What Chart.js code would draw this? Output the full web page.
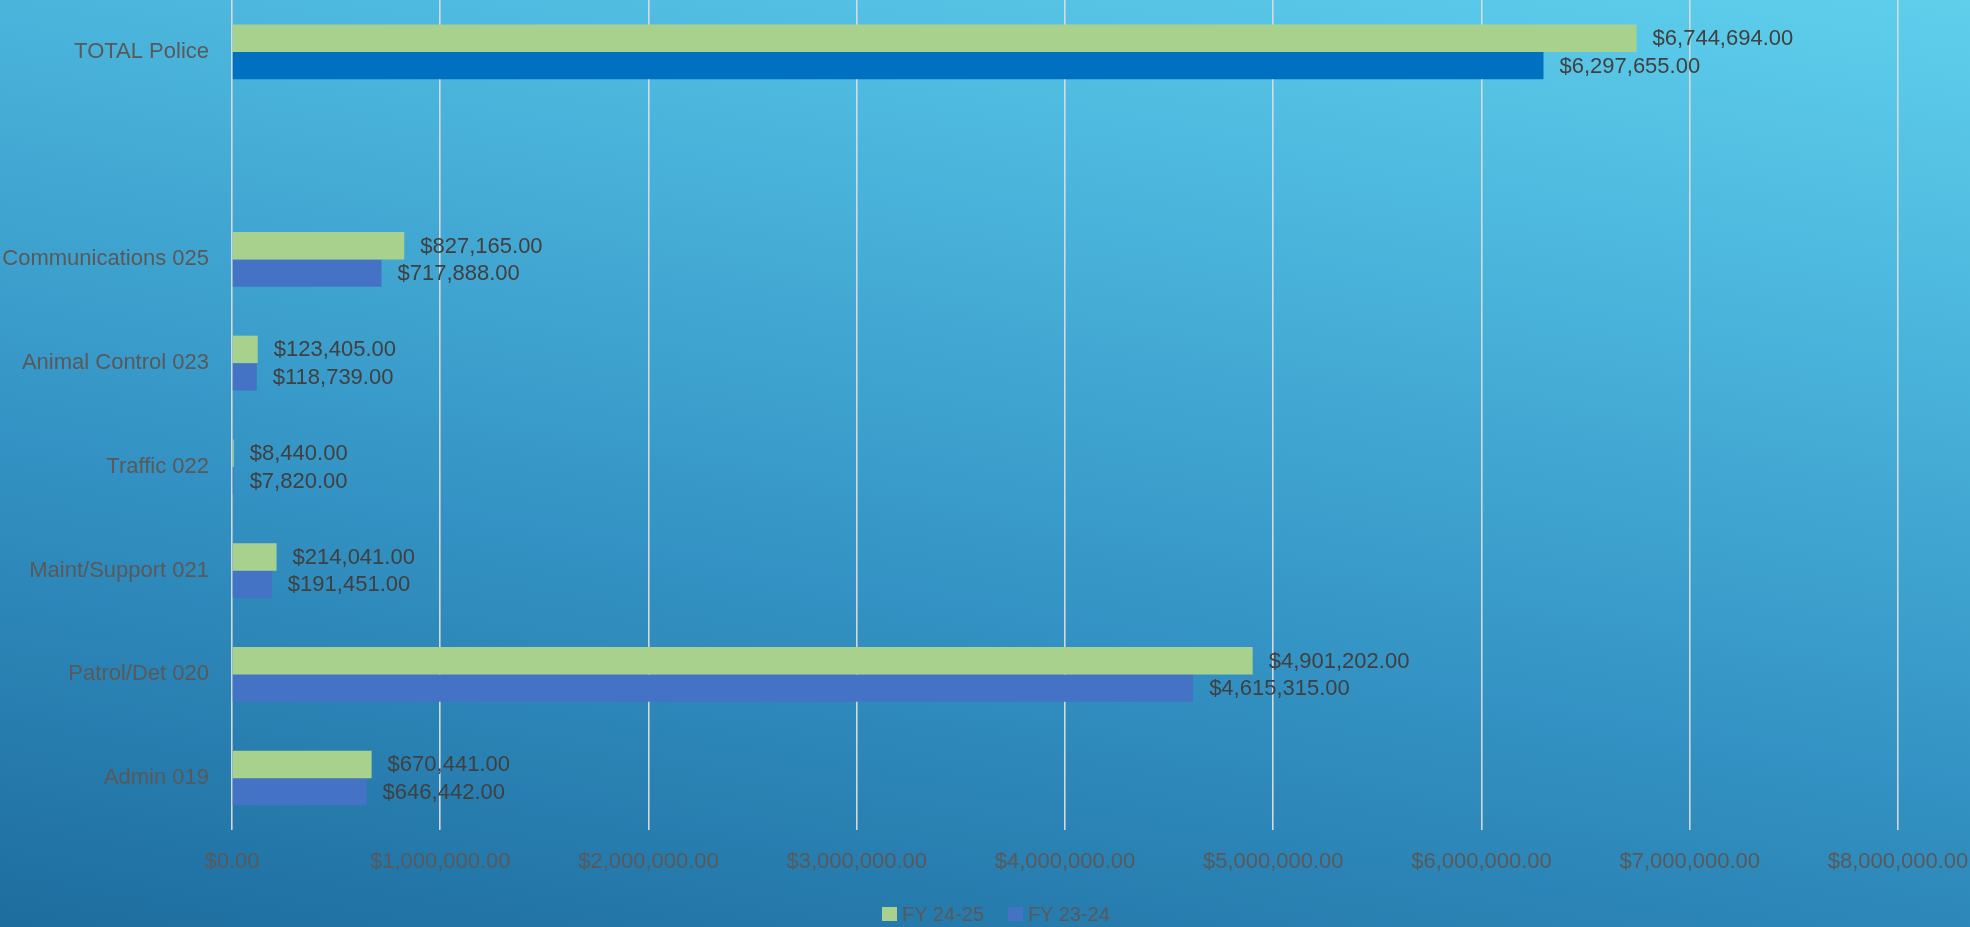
<!DOCTYPE html>
<html>
<head>
<meta charset="utf-8">
<script src="https://cdn.jsdelivr.net/npm/chart.js@4.4.1/dist/chart.umd.min.js"></script>
<style>
  html, body { margin: 0; padding: 0; overflow: hidden; }
  body {
    width: 1970px; height: 927px;
    background: linear-gradient(190deg, #5fcfec 0%, #49b2da 30%, #3392c3 62%, #1e6d9f 100%);
  }
  #wrap { position: relative; width: 1970px; height: 927px; }
  #legend {
    position: absolute; left: 882px; top: 901px; height: 26px;
    display: flex; align-items: center; gap: 24px;
    font: 20px 'Liberation Sans', Arial, sans-serif; color: #595959;
  }
  #legend span.item { display: flex; align-items: center; }
  #legend i { display: inline-block; width: 15px; height: 14px; margin-right: 5px; }
</style>
</head>
<body>
<div id="wrap"><canvas id="c"></canvas><div id="legend"></div></div>
<script>
/* Police budget by division, FY 24-25 vs FY 23-24 */
const categories = ["TOTAL Police", "", "Communications 025", "Animal Control 023",
  "Traffic 022", "Maint/Support 021", "Patrol/Det 020", "Admin 019"];
const fy2425 = [6744694, null, 827165, 123405, 8440, 214041, 4901202, 670441];
const fy2324 = [6297655, null, 717888, 118739, 7820, 191451, 4615315, 646442];
const xTicks = [0, 1000000, 2000000, 3000000, 4000000, 5000000, 6000000, 7000000, 8000000];
const seriesNames = ["FY 24-25", "FY 23-24"];
const seriesColors = ["#a9d18e", "#4472c4"];

const FONT = "'Liberation Sans', Arial, sans-serif";
const money = (v) => "$" + Number(v).toLocaleString("en-US",
  { minimumFractionDigits: 2, maximumFractionDigits: 2 });

// value labels just past the end of each bar
const barLabels = {
  id: "barLabels",
  afterDatasetsDraw(chart) {
    const ctx = chart.ctx;
    ctx.save();
    ctx.font = "22px " + FONT;
    ctx.fillStyle = "#404040";
    ctx.textAlign = "left";
    ctx.textBaseline = "middle";
    chart.data.datasets.forEach((ds, di) => {
      chart.getDatasetMeta(di).data.forEach((bar, i) => {
        const v = ds.data[i];
        if (v === null || v === undefined) return;
        ctx.fillText(money(v), bar.x + 16, bar.y + 1);
      });
    });
    ctx.restore();
  },
};

new Chart(document.getElementById("c"), {
  type: "bar",
  data: {
    labels: categories,
    datasets: [
      { label: seriesNames[0], data: fy2425, backgroundColor: seriesColors[0],
        categoryPercentage: 0.53, barPercentage: 1.0 },
      { label: seriesNames[1], data: fy2324,
        backgroundColor: categories.map((c, i) => i === 0 ? "#0070c0" : seriesColors[1]),
        categoryPercentage: 0.53, barPercentage: 1.0 },
    ],
  },
  options: {
    indexAxis: "y",
    responsive: true, maintainAspectRatio: false, animation: false,
    layout: { padding: { top: 0, right: 72, left: 0, bottom: 0 } },
    plugins: { tooltip: { enabled: false }, legend: { display: false } },
    scales: {
      x: {
        min: 0, max: 8000000,
        afterBuildTicks: (s) => { s.ticks = xTicks.map(v => ({ value: v })); },
        afterFit: (s) => { s.height = 97; s.paddingLeft = 0; s.paddingRight = 0; },
        grid: { color: "rgba(220,220,220,0.95)", lineWidth: 1.6, drawTicks: false },
        border: { display: false },
        ticks: {
          color: "#595959", font: { family: FONT, size: 22 }, padding: 19,
          maxRotation: 0, autoSkip: false,
          callback: (v) => money(v),
        },
      },
      y: {
        afterFit: (s) => { s.width = 232; s.paddingTop = 0; s.paddingBottom = 0; },
        grid: { display: false, drawTicks: false },
        border: { display: false },
        ticks: { color: "#595959", font: { family: FONT, size: 22 }, padding: 23, autoSkip: false },
      },
    },
  },
  plugins: [barLabels],
});

document.getElementById("legend").innerHTML = seriesNames.map((n, i) =>
  `<span class="item"><i style="background:${seriesColors[i]}"></i>${n}</span>`).join("");
</script>
</body>
</html>
